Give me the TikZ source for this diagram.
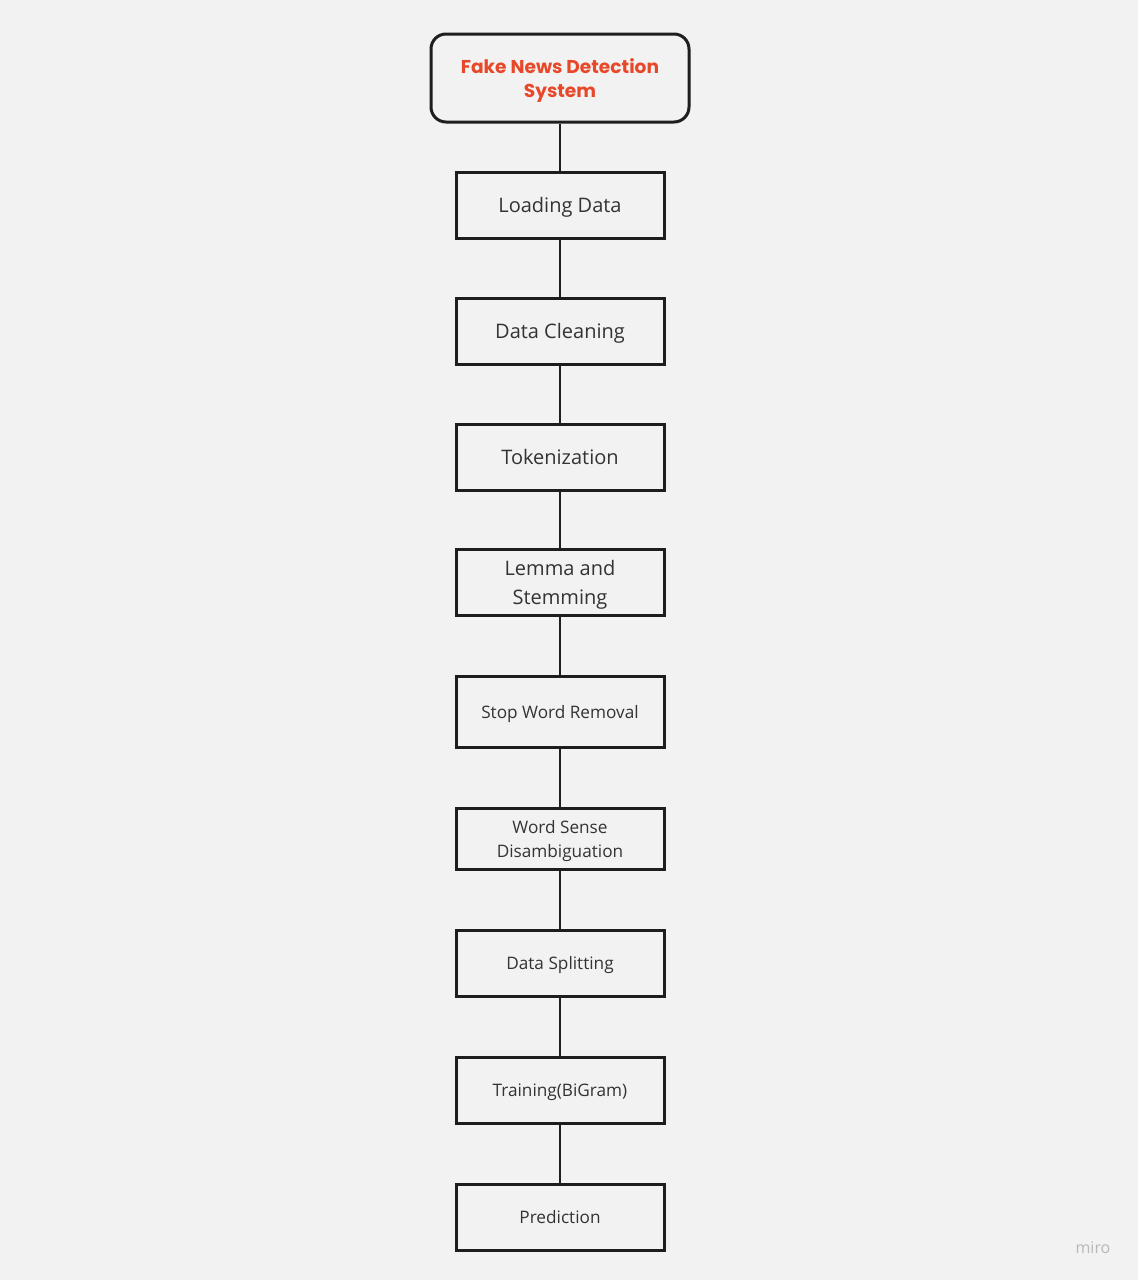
\documentclass[tikz,border=0pt]{standalone}
\usepackage{fontspec}
\setmainfont{Open Sans}
\newfontfamily\titlefont{Poppins}
\definecolor{bgc}{HTML}{F2F2F2}
\definecolor{titlec}{HTML}{E8482A}
\definecolor{txtc}{HTML}{333333}
\definecolor{edgec}{HTML}{1E1E1E}
\newcommand\osstrut{\rule[-0.293em]{0pt}{1.362em}}
\newcommand\twolines[3]{\raisebox{#1}[\height][\depth]{\begin{tabular}{@{}c@{}}#2\\#3\end{tabular}}}
\begin{document}
\begin{tikzpicture}[x=1pt,y=-1pt,
  basebox/.style={draw=edgec,line width=3pt,fill=bgc,minimum width=208pt,align=center,text=txtc,inner sep=0pt},
  stepbox/.style={basebox,execute at begin node=\osstrut, execute at end node=\osstrut},
  bigt/.style={font=\fontsize{20}{29}\selectfont},
  smallt/.style={font=\fontsize{17.2}{24}\selectfont},
  conn/.style={draw=edgec,line width=2.7pt}]
\fill[bgc] (0,0) rectangle (1138,1280);
\useasboundingbox (0,0) rectangle (1138,1280);
\node[draw=edgec,line width=3pt,rounded corners=15pt,minimum width=258pt,minimum height=88pt,text=titlec,font=\titlefont\bfseries\fontsize{18.6}{24}\selectfont,inner sep=0pt] (title) at (560,78) {\twolines{-3pt}{Fake News Detection}{System}};
\node[stepbox,bigt,minimum height=66pt] (n1) at (560,205) {Loading Data};
\node[stepbox,bigt,minimum height=66pt] (n2) at (560,331) {Data Cleaning};
\node[stepbox,bigt,minimum height=66pt] (n3) at (560,457) {Tokenization};
\node[basebox,bigt,minimum height=66pt] (n4) at (560,582) {\twolines{-2pt}{Lemma and}{Stemming}};
\node[stepbox,smallt,minimum height=71pt] (n5) at (560,711.5) {Stop Word Removal};
\node[basebox,smallt,minimum height=61pt] (n6) at (560,838.5) {\twolines{-2pt}{Word Sense}{Disambiguation}};
\node[stepbox,smallt,minimum height=66pt] (n7) at (560,963) {Data Splitting};
\node[stepbox,smallt,minimum height=66pt] (n8) at (560,1090) {Training(BiGram)};
\node[stepbox,smallt,minimum height=66pt] (n9) at (560,1217) {Prediction};
\foreach \a/\b in {title/n1,n1/n2,n2/n3,n3/n4,n4/n5,n5/n6,n6/n7,n7/n8,n8/n9}
  \draw[conn] (\a.south) -- (\b.north);
\node[text=black!28,font=\fontsize{16}{18}\selectfont] (miro) at (1093,1248) {miro};
\end{tikzpicture}
\end{document}
